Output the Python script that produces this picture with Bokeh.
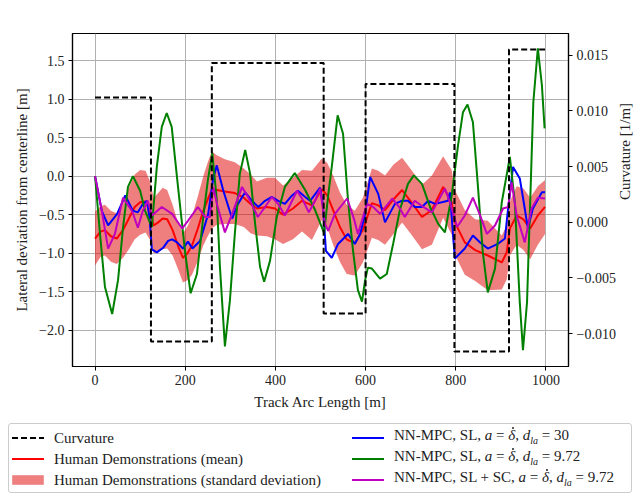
import math
from bokeh.plotting import figure
from bokeh.models import (Range1d, LinearAxis, FixedTicker, CustomJSTickFormatter,
                          ColumnDataSource, Div)
from bokeh.layouts import column
from bokeh.embed import file_html
from bokeh.resources import INLINE

FONT = "Liberation Serif"

# ---------------- data ----------------
# track curvature (piecewise constant) [1/m]
curv_s = [0, 124, 259, 507, 600, 797, 918, 998]
curv_k = [0.0112, -0.0107, 0.0143, -0.0082, 0.0124, -0.0116, 0.0155, 0.0155]

# human demonstrations: mean and standard deviation [m]
human_s = [0, 12, 22, 35, 48, 62, 75, 88, 100, 112, 122, 130, 140, 150, 160, 172, 185, 195,
           205, 215, 228, 240, 250, 259, 270, 288, 310, 330, 345, 359, 381, 399, 417, 439,
           459, 481, 503, 515, 528, 543, 558, 576, 594, 614, 628, 643, 662, 681, 703, 725,
           747, 772, 791, 798, 820, 843, 871, 902, 913, 920, 935, 950, 965, 982, 998]
human_mean = [-0.81, -0.72, -0.70, -0.78, -0.81, -0.70, -0.55, -0.40, -0.34, -0.33, -0.45,
              -0.64, -0.60, -0.55, -0.56, -0.70, -0.92, -1.06, -1.00, -0.90, -0.68, -0.45,
              -0.30, -0.18, -0.18, -0.20, -0.22, -0.28, -0.36, -0.42, -0.40, -0.42, -0.50,
              -0.42, -0.32, -0.38, -0.17, -0.25, -0.44, -0.66, -0.82, -0.87, -0.70, -0.35,
              -0.38, -0.44, -0.30, -0.18, -0.35, -0.53, -0.44, -0.14, -0.34, -0.60, -0.86,
              -0.96, -1.03, -1.12, -0.99, -0.68, -0.51, -0.56, -0.68, -0.51, -0.40]
human_std = [0.35, 0.33, 0.33, 0.33, 0.33, 0.36, 0.40, 0.42, 0.42, 0.40, 0.38, 0.36, 0.38,
             0.40, 0.38, 0.33, 0.30, 0.32, 0.35, 0.38, 0.42, 0.45, 0.48, 0.50, 0.45, 0.42,
             0.40, 0.38, 0.38, 0.35, 0.38, 0.40, 0.38, 0.40, 0.40, 0.45, 0.40, 0.42, 0.45,
             0.45, 0.45, 0.42, 0.42, 0.45, 0.45, 0.45, 0.45, 0.42, 0.42, 0.42, 0.45, 0.40,
             0.42, 0.42, 0.42, 0.40, 0.45, 0.35, 0.35, 0.35, 0.38, 0.40, 0.40, 0.38, 0.35]

# NN-MPC, SL, d_la = 30 (blue)
blue_s = [0, 15, 29, 49, 67, 84, 95, 106, 115, 121, 126, 137, 151, 162, 171, 182, 195, 206,
          216, 233, 251, 262, 270, 284, 304, 317, 333, 348, 362, 377, 392, 406, 421, 437,
          450, 466, 477, 499, 505, 512, 525, 539, 561, 576, 588, 599, 610, 628, 643, 665,
          680, 694, 709, 725, 739, 754, 783, 787, 794, 798, 820, 838, 854, 871, 893, 909,
          916, 927, 942, 953, 960, 971, 991, 998]
blue_y = [0.0, -0.45, -0.64, -0.49, -0.25, -0.45, -0.47, -0.36, -0.32, -0.55, -0.95, -0.99,
          -0.93, -0.84, -0.82, -0.86, -0.94, -0.85, -0.94, -0.84, -0.49, -0.03, 0.14, -0.18,
          -0.55, -0.36, -0.21, -0.32, -0.40, -0.32, -0.27, -0.32, -0.36, -0.25, -0.19, -0.27,
          -0.32, -0.15, -0.35, -0.97, -1.06, -0.88, -0.75, -0.88, -0.75, -0.49, -0.01, -0.23,
          -0.60, -0.36, -0.32, -0.32, -0.40, -0.40, -0.32, -0.36, -0.32, -0.21, -0.77, -1.07,
          -0.94, -0.77, -0.86, -0.94, -0.88, -0.81, -0.42, 0.12, -0.03, -0.42, -0.68, -0.42,
          -0.21, -0.21]

# NN-MPC, SL, d_la = 9.72 (green)
green_s = [0, 11, 22, 38, 51, 62, 73, 84, 100, 111, 126, 137, 148, 159, 170, 184, 200, 212,
           226, 240, 250, 260, 270, 277, 288, 299, 310, 321, 333, 344, 355, 366, 375, 388,
           403, 421, 443, 466, 488, 508, 517, 525, 538, 550, 561, 572, 583, 592, 599, 605,
           614, 632, 647, 661, 676, 694, 707, 725, 743, 761, 776, 791, 805, 816, 826, 838,
           849, 860, 871, 887, 902, 920, 931, 942, 949, 958, 965, 972, 982, 991, 997]
green_y = [0.0, -0.75, -1.44, -1.79, -1.35, -0.67, -0.14, 0.0, -0.19, -0.45, -0.66, 0.12,
           0.64, 0.82, 0.64, -0.14, -1.0, -1.52, -1.27, -0.53, -0.06, 0.30, -0.31, -1.18,
           -2.21, -1.62, -0.75, 0.03, 0.34, 0.03, -0.62, -1.18, -1.37, -1.10, -0.53, -0.14,
           0.04, -0.18, -0.44, -0.74, -0.25, 0.12, 0.79, 0.55, -0.31, -0.96, -1.48, -1.63,
           -1.35, -1.19, -1.20, -1.33, -1.27, -0.88, -0.44, -0.10, 0.01, -0.10, -0.40, -0.62,
           -0.73, -0.25, 0.40, 0.83, 0.93, 0.70, -0.12, -0.99, -1.51, -1.20, -0.34, 0.25,
           -0.34, -1.64, -2.26, -1.64, -0.34, 0.96, 1.66, 1.18, 0.62]

# NN-MPC, SL + SC, d_la = 9.72 (magenta)
mag_s = [0, 15, 29, 44, 62, 82, 95, 106, 117, 126, 148, 171, 193, 206, 228, 244, 255, 262,
         272, 288, 304, 326, 344, 361, 377, 392, 406, 421, 437, 448, 462, 474, 488, 499, 510,
         517, 532, 559, 574, 583, 603, 617, 632, 659, 674, 687, 709, 728, 747, 776, 787, 803,
         820, 838, 854, 869, 887, 905, 916, 924, 935, 953, 968, 982, 998]
mag_y = [0.0, -0.45, -0.94, -0.75, -0.28, -0.45, -0.67, -0.45, -0.32, -0.51, -0.40, -0.49,
         -0.68, -0.58, -0.40, -0.53, -0.53, -0.14, -0.40, -0.73, -0.49, -0.14, -0.32, -0.53,
         -0.40, -0.27, -0.36, -0.51, -0.32, -0.19, -0.32, -0.47, -0.32, -0.16, -0.62, -0.71,
         -0.49, -0.29, -0.55, -0.75, -0.36, -0.40, -0.49, -0.29, -0.40, -0.53, -0.32, -0.40,
         -0.47, -0.16, -0.34, -0.66, -0.51, -0.28, -0.51, -0.75, -0.64, -0.42, -0.40, -0.08,
         -0.51, -0.86, -0.42, -0.28, -0.29]

x_ticks = [0, 200, 400, 600, 800, 1000]
dev_ticks = [-2.0, -1.5, -1.0, -0.5, 0.0, 0.5, 1.0, 1.5]
curv_ticks = [-0.010, -0.005, 0.0, 0.005, 0.010, 0.015]

# italic delta with a drawn (non-text) dot accent above it
DELTA_DOT = ("<span style='position:relative;display:inline-block'><i>\u03b4</i>"
             "<span style='position:absolute;left:4px;top:1px;width:2px;height:2px;"
             "border-radius:1px;background:#222222'></span></span>")
DD = ("<i>a</i> = " + DELTA_DOT +
      ", <i>d</i><sub style='font-size:10px'><i>la</i></sub>")
labels = ["Curvature", "Human Demonstrations (mean)",
          "Human Demonstrations (standard deviation)",
          "NN-MPC, SL, " + DD + " = 30",
          "NN-MPC, SL, " + DD + " = 9.72",
          "NN-MPC, SL + SC, " + DD + " = 9.72"]

C_BLUE, C_GREEN, C_RED, C_MAG = "#0000ff", "#008000", "#ff0000", "#bf00bf"
C_BAND = "#e00000"
DASH = "6 3"

# ---------------- figure ----------------
p = figure(width=640, height=420, frame_width=496, frame_height=333,
           min_border_left=72, min_border_right=72, min_border_top=33, min_border_bottom=54,
           x_range=Range1d(-50, 1050), y_range=Range1d(-2.471, 1.852),
           output_backend="svg", toolbar_location=None)
p.extra_y_ranges = {"curv": Range1d(-0.012953, 0.016939)}
p.background_fill_color = "white"
p.border_fill_color = "white"
p.outline_line_color = "black"
p.outline_line_width = 1.2

lower = [m - s for m, s in zip(human_mean, human_std)]
upper = [m + s for m, s in zip(human_mean, human_std)]
band_src = ColumnDataSource(dict(x=human_s, lo=lower, hi=upper))
p.varea(x="x", y1="lo", y2="hi", source=band_src, fill_color=C_BAND, fill_alpha=0.5)
p.line(human_s, human_mean, line_color=C_RED, line_width=2)
p.line(blue_s, blue_y, line_color=C_BLUE, line_width=2)
p.line(green_s, green_y, line_color=C_GREEN, line_width=2)
p.line(mag_s, mag_y, line_color=C_MAG, line_width=2)
p.step(curv_s, curv_k, mode="after", y_range_name="curv", line_color="black",
       line_width=2, line_dash=DASH)

fmt1 = CustomJSTickFormatter(code="return tick.toFixed(1).replace('-', '\u2212');")
fmt3 = CustomJSTickFormatter(code="return tick.toFixed(3).replace('-', '\u2212');")
fmt0 = CustomJSTickFormatter(code="return tick.toFixed(0).replace('-', '\u2212');")

p.xaxis.ticker = FixedTicker(ticks=x_ticks)
p.xaxis.formatter = fmt0
p.yaxis.ticker = FixedTicker(ticks=dev_ticks)
p.yaxis.formatter = fmt1
p.xaxis.axis_label = "Track Arc Length [m]"
p.yaxis.axis_label = "Lateral deviation from centerline [m]"

rax = LinearAxis(y_range_name="curv", ticker=FixedTicker(ticks=curv_ticks),
                 formatter=fmt3, axis_label="Curvature [1/m]")
p.add_layout(rax, "right")
rax.axis_label_orientation = math.pi / 2

for ax in [p.xaxis[0], p.yaxis[0], rax]:
    ax.axis_line_color = "black"
    ax.axis_line_width = 1.2
    ax.major_tick_line_color = "black"
    ax.major_tick_out = 4
    ax.major_tick_in = 0
    ax.minor_tick_line_color = None
    ax.major_label_text_font = FONT
    ax.major_label_text_font_size = "14px"
    ax.major_label_text_color = "#222222"
    ax.axis_label_text_font = FONT
    ax.axis_label_text_font_size = "15px"
    ax.axis_label_text_font_style = "normal"
    ax.axis_label_text_color = "#222222"
    ax.axis_label_standoff = 6
    ax.major_label_standoff = 4

p.xgrid.ticker = FixedTicker(ticks=x_ticks)
p.ygrid.ticker = FixedTicker(ticks=dev_ticks)
p.grid.grid_line_color = "#b0b0b0"
p.grid.grid_line_width = 1


# ---------------- legend (HTML box below the plot) ----------------
def glyph(kind, color):
    if kind == "patch":
        body = (f'<rect x="0.5" y="1.5" width="31" height="9" fill="{color}" '
                f'fill-opacity="0.5" stroke="{color}" stroke-opacity="0.2"/>')
    else:
        dash = f' stroke-dasharray="{DASH}"' if kind == "dash" else ""
        body = (f'<line x1="0" y1="6" x2="32" y2="6" stroke="{color}" '
                f'stroke-width="2"{dash}/>')
    return f'<svg width="32" height="12" style="display:block;flex:none">{body}</svg>'


entries = [("dash", "black"), ("line", C_RED), ("patch", C_BAND),
           ("line", C_BLUE), ("line", C_GREEN), ("line", C_MAG)]
col_left = [3, 3, 3, 343, 343, 343]
row_top = [5, 26, 47, 5, 26, 47]

items_html = ""
for (kind, color), lab, lx, ty in zip(entries, labels, col_left, row_top):
    items_html += (f'<div style="position:absolute;left:{lx}px;top:{ty}px;height:18px;'
                   f'display:flex;align-items:center;white-space:nowrap;">'
                   f'{glyph(kind, color)}<span style="margin-left:10px;line-height:18px">'
                   f'{lab}</span></div>')

html = (f'<div style="position:relative;box-sizing:border-box;width:624px;height:70px;'
        f'border:1px solid #cccccc;border-radius:3px;background:white;'
        f"font-family:'{FONT}';font-size:15px;color:#222222;\">{items_html}</div>")

legend_div = Div(text=html, width=624, height=70, margin=(3, 0, 0, 8))

layout = column(p, legend_div)
open("out.html", "w").write(file_html(layout, INLINE))
